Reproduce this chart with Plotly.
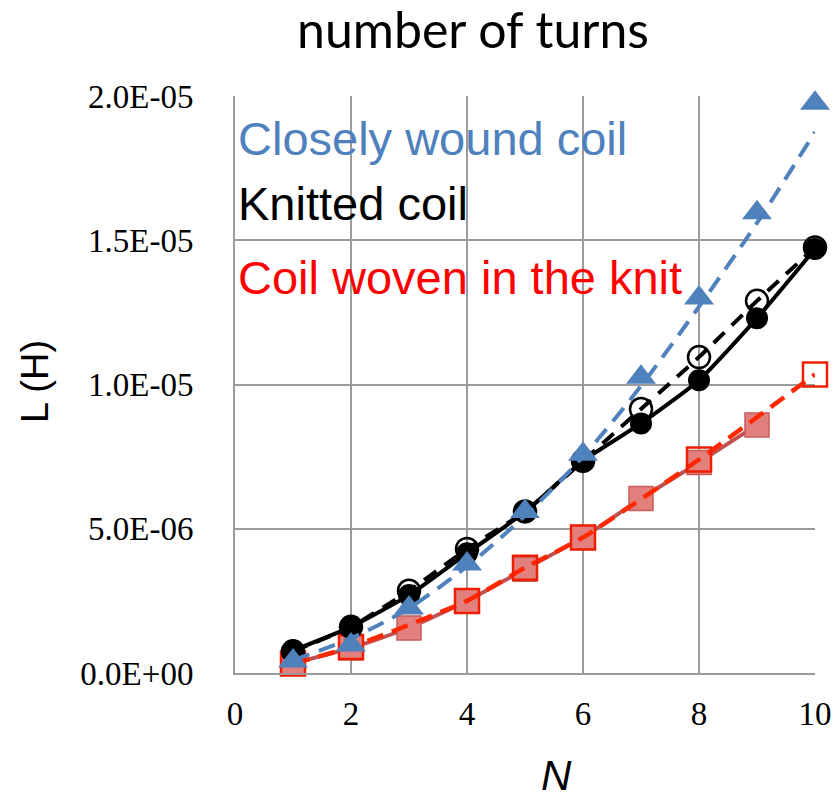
import plotly.graph_objects as go

# Number of turns
N = [1, 2, 3, 4, 5, 6, 7, 8, 9, 10]

# Closely wound coil: measured points and fitted curve (H)
closely_measured = [0.42e-6, 0.97e-6, 2.25e-6, 3.78e-6, 5.6e-6, 7.58e-6, 10.25e-6, 13.0e-6, 15.95e-6, 19.75e-6]
closely_fit = [0.45e-6, 1.2e-6, 2.25e-6, 3.7e-6, 5.45e-6, 7.5e-6, 9.95e-6, 12.7e-6, 15.6e-6, 18.75e-6]

# Knitted coil: measured (filled) and calculated (open)
knitted_measured = [0.78e-6, 1.6e-6, 2.7e-6, 4.15e-6, 5.58e-6, 7.35e-6, 8.65e-6, 10.15e-6, 12.3e-6, 14.7e-6]
knitted_calc = [0.75e-6, 1.6e-6, 2.85e-6, 4.3e-6, 5.6e-6, 7.35e-6, 9.15e-6, 10.95e-6, 12.9e-6, 14.75e-6]

# Coil woven in the knit: measured (filled, N=1..9) and calculated (open)
woven_N = [1, 2, 3, 4, 5, 6, 7, 8, 9]
woven_measured = [0.33e-6, 0.87e-6, 1.56e-6, 2.5e-6, 3.6e-6, 4.7e-6, 6.05e-6, 7.3e-6, 8.6e-6]
woven_calc_N = [1, 2, 4, 5, 6, 8, 10]
woven_calc = [0.33e-6, 0.9e-6, 2.5e-6, 3.65e-6, 4.7e-6, 7.4e-6, 10.35e-6]

y_ticks = [0, 5e-6, 1e-5, 1.5e-5, 2e-5]
y_tick_text = ["0.0E+00", "5.0E-06", "1.0E-05", "1.5E-05", "2.0E-05"]
x_ticks = [0, 2, 4, 6, 8, 10]

BLUE = "rgb(79,129,189)"
BROWN = "rgb(192,80,77)"
RED = "rgb(255,40,0)"

fig = go.Figure()

# woven coil, measured
fig.add_trace(go.Scatter(
    x=woven_N, y=woven_measured, mode="lines+markers", cliponaxis=False,
    line=dict(color=BROWN, width=4, shape="spline", smoothing=0.5),
    marker=dict(symbol="square", size=24, color="rgb(226,128,126)",
                line=dict(color="rgb(200,92,90)", width=1.5)),
))
# woven coil, calculated
fig.add_trace(go.Scatter(
    x=woven_calc_N, y=woven_calc, mode="lines+markers", cliponaxis=False,
    line=dict(color=RED, width=4.5, dash="17px,9px", shape="spline", smoothing=0.5),
    marker=dict(symbol="square-open", size=24, color="rgb(240,30,0)",
                line=dict(color="rgb(240,30,0)", width=2.5)),
))
# knitted coil, calculated
fig.add_trace(go.Scatter(
    x=N, y=knitted_calc, mode="lines+markers", cliponaxis=False,
    line=dict(color="black", width=4, dash="15px,10px", shape="spline", smoothing=0.5),
    marker=dict(symbol="circle-open", size=22, color="black",
                line=dict(color="black", width=2.5)),
))
# knitted coil, measured
fig.add_trace(go.Scatter(
    x=N, y=knitted_measured, mode="lines+markers", cliponaxis=False,
    line=dict(color="black", width=4, shape="spline", smoothing=0.5),
    marker=dict(symbol="circle", size=22, color="black"),
))
# closely wound coil, fit
fig.add_trace(go.Scatter(
    x=N, y=closely_fit, mode="lines", cliponaxis=False,
    line=dict(color=BLUE, width=4, dash="17px,10px", shape="spline", smoothing=0.8),
))
# closely wound coil, measured
fig.add_trace(go.Scatter(
    x=N, y=closely_measured, mode="markers", cliponaxis=False,
    marker=dict(symbol="triangle-up", size=26, color=BLUE),
))

W, H = 835, 799
L, R, T, B = 235, 20, 96, 126
pw, ph = W - L - R, H - T - B


def px(xp):
    return (xp - L) / pw


def py(yp):
    return (H - B - yp) / ph


annotations = [
    dict(text="number of turns", x=px(473), y=py(29), xref="paper", yref="paper",
         showarrow=False, xanchor="center", yanchor="middle",
         font=dict(family="Lato", size=50, color="black")),
    dict(text="L (H)", x=px(35), y=py(382), xref="paper", yref="paper",
         showarrow=False, textangle=-90, xanchor="center", yanchor="middle",
         font=dict(family="Liberation Sans", size=38, color="black")),
    dict(text="<i>N</i>", x=px(556), y=py(775), xref="paper", yref="paper",
         showarrow=False, xanchor="center", yanchor="middle",
         font=dict(family="Liberation Sans", size=42, color="black")),
    dict(text="Closely wound coil", x=px(236), y=py(138), xref="paper", yref="paper",
         showarrow=False, xanchor="left", yanchor="middle",
         font=dict(family="Liberation Sans", size=47, color=BLUE)),
    dict(text="Knitted coil", x=px(236), y=py(203), xref="paper", yref="paper",
         showarrow=False, xanchor="left", yanchor="middle",
         font=dict(family="Liberation Sans", size=47, color="black")),
    dict(text="Coil woven in the knit", x=px(236), y=py(277), xref="paper", yref="paper",
         showarrow=False, xanchor="left", yanchor="middle",
         font=dict(family="Liberation Sans", size=47, color="rgb(255,0,0)")),
]

grid = "rgb(155,155,155)"
fig.update_layout(
    width=W, height=H,
    margin=dict(l=L, r=R, t=T, b=B),
    paper_bgcolor="white", plot_bgcolor="white",
    showlegend=False,
    annotations=annotations,
    xaxis=dict(range=[0, 10], tickvals=x_ticks, showgrid=True, gridcolor=grid, gridwidth=2,
               showline=True, linecolor=grid, linewidth=2, zeroline=False, automargin=False,
               ticks="", ticklabelstandoff=10,
               tickfont=dict(family="Liberation Serif", size=33, color="black")),
    yaxis=dict(range=[0, 2e-5], tickvals=y_ticks, ticktext=y_tick_text, showgrid=True,
               gridcolor=grid, gridwidth=2, showline=True, linecolor=grid, linewidth=2,
               zeroline=False, automargin=False, ticks="", ticklabelstandoff=33,
               tickfont=dict(family="Liberation Serif", size=33, color="black")),
)

fig.write_html("out.html")
